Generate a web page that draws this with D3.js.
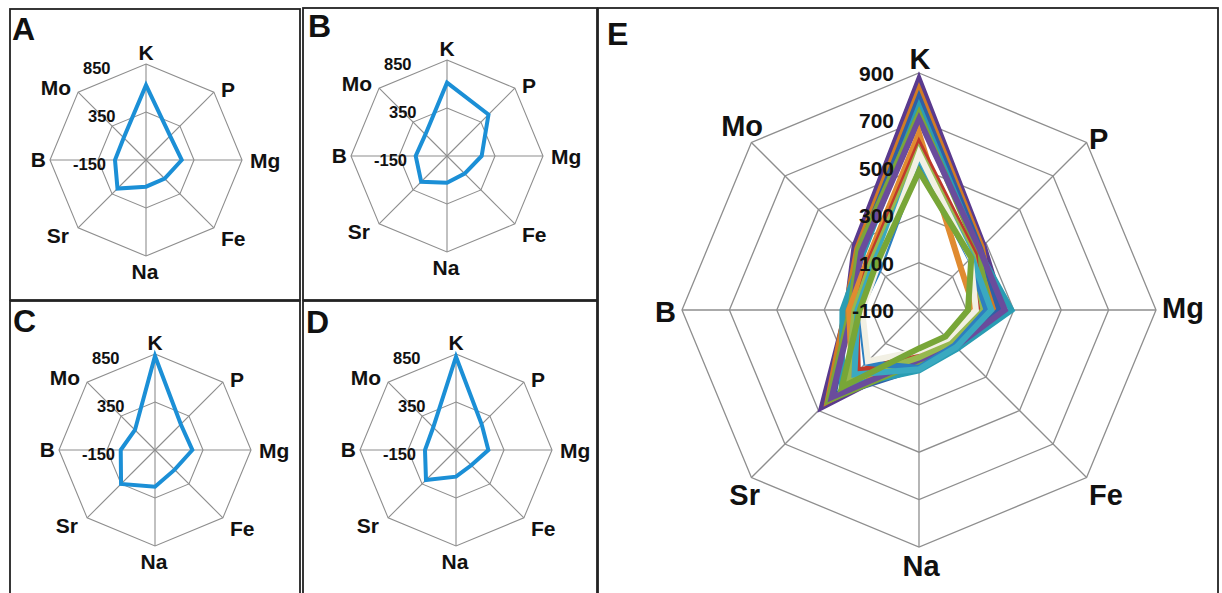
<!DOCTYPE html>
<html>
<head>
<meta charset="utf-8">
<script src="https://cdn.jsdelivr.net/npm/d3@7"></script>
<style>
body { margin: 0; background: #fff; }
text { font-family: Arial, "Liberation Sans", sans-serif; font-weight: bold; fill: #111; }
</style>
</head>
<body>
<svg id="chart" width="1222" height="593"></svg>
<script>
// axes, clockwise from the top
const elements = ['K', 'P', 'Mg', 'Fe', 'Na', 'Sr', 'B', 'Mo'];

// radial scale ticks
const smallTicks = [-150, 350, 850];
const bigTicks = [-100, 100, 300, 500, 700, 900];

// panels A-D: one series each (K, P, Mg, Fe, Na, Sr, B, Mo)
const panelA = [630, 205, 222, 125, 128, 270, 173, 178];
const panelB = [614, 461, 211, 110, 128, 230, 176, 168];
const panelC = [830, 230, 239, 140, 232, 350, 207, 145];
const panelD = [822, 228, 187, 75, 128, 292, 173, 185];

// panel E: all samples
const seriesE = [
    [872, 285, 254, 120, 100, 479, 205, 284],
    [828, 275, 215, 100, 85, 445, 210, 268],
    [795, 265, 240, 128, 145, 410, 190, 255],
    [757, 255, 290, 130, 155, 360, 223, 235],
    [729, 250, 200, 105, 120, 440, 190, 262],
    [705, 262, 262, 118, 110, 420, 180, 245],
    [645, 150, 135, 75, 75, 300, 195, 205],
    [602, 233, 150, 82, 92, 265, 165, 195],
    [575, 222, 172, 92, 100, 325, 172, 185],
    [528, 205, 185, 112, 145, 215, 150, 140],
    [545, 215, 205, 122, 150, 285, 160, 172],
    [560, 208, 140, 72, 72, 205, 140, 150],
    [485, 212, 107, 58, 62, 360, 150, 160]
];

const colorsE = ['#5a3a8e', '#d27b25', '#2f5fa7', '#2a9db3', '#7ca53b', '#6a4c9c', '#e08b30',
    '#c0392b', '#96b84e', '#2d7fc0', '#3aa9c0', '#f2f0e4', '#78a637'];

const svg = d3.select('#chart');
const step = 2 * Math.PI / elements.length;

// panel frames
const frames = [
    { x0: 10, y0: 9, x1: 300, y1: 300 },
    { x0: 303, y0: 8, x1: 597, y1: 300 },
    { x0: 10, y0: 301, x1: 300, y1: 600 },
    { x0: 303, y0: 301, x1: 597, y1: 600 },
    { x0: 598, y0: 8, x1: 1218, y1: 600 }
];

svg.append('g').attr('class', 'frames')
    .selectAll('rect').data(frames)
    .enter().append('rect')
    .attr('x', d => d.x0)
    .attr('y', d => d.y0)
    .attr('width', d => d.x1 - d.x0)
    .attr('height', d => d.y1 - d.y0)
    .attr('fill', 'none')
    .attr('stroke', '#222')
    .attr('stroke-width', 1.8);

// label offsets from the centre: [dx, dy, anchor]
const smallLabelPos = [
    [0, -100, 'middle'], [75, -63, 'start'], [104, 8, 'start'], [75, 86, 'start'],
    [-1, 119, 'middle'], [-77, 83, 'end'], [-100, 7, 'end'], [-75, -65, 'end']
];
const bigLabelPos = [
    [1, -241, 'middle'], [170, -161, 'start'], [243, 8, 'start'], [170, 195, 'start'],
    [2, 266, 'middle'], [-159, 195, 'end'], [-243, 12, 'end'], [-156, -174, 'end']
];

function drawRadar(cfg) {
    const g = svg.append('g')
        .attr('transform', `translate(${cfg.cx},${cfg.cy})`);

    const r = d3.scaleLinear()
        .domain(cfg.domain)
        .range([0, cfg.radius]);

    const radar = d3.lineRadial()
        .angle((d, i) => i * step)
        .radius(d => r(d))
        .curve(d3.curveLinearClosed);

    const rings = cfg.ticks.filter(t => t > cfg.domain[0]);

    g.append('g').attr('class', 'rings')
        .selectAll('path').data(rings)
        .enter().append('path')
        .attr('d', v => radar(elements.map(() => v)))
        .attr('fill', 'none')
        .attr('stroke', '#8e8e8e')
        .attr('stroke-width', cfg.gridWidth);

    g.append('g').attr('class', 'spokes')
        .selectAll('line').data(elements)
        .enter().append('line')
        .attr('x1', 0)
        .attr('y1', 0)
        .attr('x2', (d, i) => r(cfg.domain[1]) * Math.sin(i * step))
        .attr('y2', (d, i) => -r(cfg.domain[1]) * Math.cos(i * step))
        .attr('stroke', '#8e8e8e')
        .attr('stroke-width', cfg.gridWidth);

    g.append('g').attr('class', 'series')
        .selectAll('path').data(cfg.series)
        .enter().append('path')
        .attr('d', d => radar(d))
        .attr('fill', 'none')
        .attr('stroke', (d, i) => cfg.colors[i])
        .attr('stroke-width', cfg.lineWidth)
        .attr('stroke-linejoin', 'miter')
        .attr('stroke-miterlimit', 10);

    g.append('g').attr('class', 'tick-labels')
        .selectAll('text').data(cfg.ticks)
        .enter().append('text')
        .attr('x', (d, i) => cfg.tickX[i])
        .attr('y', d => -r(d) + cfg.tickDy)
        .attr('text-anchor', cfg.tickAnchor)
        .style('font-size', `${cfg.tickSize}px`)
        .text(d => d);

    g.append('g').attr('class', 'axis-labels')
        .selectAll('text').data(elements)
        .enter().append('text')
        .attr('x', (d, i) => cfg.labelPos[i][0])
        .attr('y', (d, i) => cfg.labelPos[i][1])
        .attr('text-anchor', (d, i) => cfg.labelPos[i][2])
        .style('font-size', `${cfg.labelSize}px`)
        .text(d => d);

    svg.append('text')
        .attr('x', cfg.letterX)
        .attr('y', cfg.letterY)
        .style('font-size', '32px')
        .text(cfg.letter);
}

const smallPanels = [
    { letter: 'A', cx: 146, cy: 160, values: panelA, letterX: 12, letterY: 40 },
    { letter: 'B', cx: 447, cy: 156, values: panelB, letterX: 308, letterY: 37 },
    { letter: 'C', cx: 155, cy: 450, values: panelC, letterX: 13, letterY: 332 },
    { letter: 'D', cx: 456, cy: 450, values: panelD, letterX: 306, letterY: 333 }
];

smallPanels.forEach(p => drawRadar({
    cx: p.cx,
    cy: p.cy,
    radius: 96,
    domain: [-150, 850],
    ticks: smallTicks,
    tickX: [-73, -58, -63],
    tickDy: 10,
    tickAnchor: 'start',
    tickSize: 16.5,
    series: [p.values],
    colors: ['#1b8fd6'],
    lineWidth: 4,
    gridWidth: 1.1,
    labelPos: smallLabelPos,
    labelSize: 21,
    letter: p.letter,
    letterX: p.letterX,
    letterY: p.letterY
}));

drawRadar({
    cx: 919,
    cy: 310,
    radius: 237,
    domain: [-100, 900],
    ticks: bigTicks,
    tickX: bigTicks.map(() => -25),
    tickDy: 8,
    tickAnchor: 'end',
    tickSize: 21,
    series: seriesE,
    colors: colorsE,
    lineWidth: 6,
    gridWidth: 1.3,
    labelPos: bigLabelPos,
    labelSize: 29,
    letter: 'E',
    letterX: 607,
    letterY: 45
});
</script>
</body>
</html>
